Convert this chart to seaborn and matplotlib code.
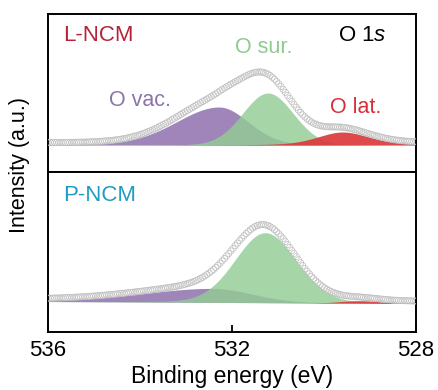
import numpy as np
import matplotlib
matplotlib.use("Agg")
import matplotlib.pyplot as plt
import seaborn as sns
import pandas as pd

# ---- data ----
# peak parameters: center (eV), height, fwhm high-BE side, fwhm low-BE side, lorentz fraction
top_vac = [532.28, 38, 2.2, 1.5, 0.10]
top_sur = [531.22, 52, 1.30, 1.30, 0.05]
top_lat = [529.60, 13, 1.30, 1.40, 0.35]
bot_vac = [532.40, 14, 3.6, 2.0, 0.10]
bot_sur = [531.28, 70, 1.55, 1.60, 0.10]
bot_lat = [529.20, 2.5, 1.0, 1.0, 0.0]
raw_scale = {"top": 1.10, "bottom": 1.0}
raw_offset = 2.0
bot_background = [0.0, -2.0]   # at 536 eV, at 528 eV
x_ticks = [536, 532, 528]
panel_labels = ["L-NCM", "P-NCM"]
peak_labels = ["O vac.", "O sur.", "O lat."]

c_vac = "#9a7fb6"
c_sur = "#93cd95"
c_lat = "#dc3a3c"

energy = np.linspace(536, 528, 170)


def peak(x, p):
    c, h, wl, wr, eta = p
    w = np.where(x > c, wl, wr)
    d2 = (x - c) ** 2 / w ** 2
    g = np.exp(-4 * np.log(2) * d2)
    lo = 1.0 / (1.0 + 4 * d2)
    return h * ((1 - eta) * g + eta * lo)


sns.set_theme(style="white")
plt.rcParams["font.family"] = ["Liberation Sans", "DejaVu Sans"]
plt.rcParams["mathtext.fontset"] = "custom"
plt.rcParams["mathtext.it"] = "Liberation Sans:italic"
plt.rcParams["mathtext.rm"] = "Liberation Sans"

fig = plt.figure(figsize=(4.38, 3.9), dpi=100)
ax1 = fig.add_axes([48 / 438, 1 - 172 / 390, 368 / 438, 158 / 390])
ax2 = fig.add_axes([48 / 438, 1 - 332 / 390, 368 / 438, 160 / 390])

for ax, comps, key, bg, ylim in [
    (ax1, [top_vac, top_sur, top_lat], "top", [0.0, 0.0], (-27, 131)),
    (ax2, [bot_vac, bot_sur, bot_lat], "bottom", bot_background, (-30.5, 129.5)),
]:
    base = bg[0] + (bg[1] - bg[0]) * (536 - energy) / 8.0
    total = np.zeros_like(energy)
    for p, col, a in zip(comps, [c_vac, c_sur, c_lat], [0.95, 0.82, 0.92]):
        yv = peak(energy, p)
        total += yv
        ax.fill_between(energy, base, base + yv, color=col, alpha=a, lw=0, zorder=2)
    raw = base + total * raw_scale[key] + raw_offset
    df = pd.DataFrame({"E": energy, "I": raw})
    sns.scatterplot(data=df, x="E", y="I", ax=ax, marker="o", s=20,
                    facecolor="none", edgecolor="#bdbdbd", linewidth=0.5, zorder=3)
    ax.set_xlim(536, 528)
    ax.set_ylim(*ylim)
    ax.set_yticks([])
    ax.set_ylabel("")
    ax.set_xlabel("")
    for s in ax.spines.values():
        s.set_visible(True)
        s.set_color("black")
        s.set_linewidth(1.4)

ax1.set_xticks([])
ax2.set_xticks(x_ticks)
ax2.set_xticklabels([str(t) for t in x_ticks])
ax2.tick_params(axis="x", direction="in", length=5, width=1.3, labelsize=16,
                pad=6, bottom=True, colors="black")
ax2.set_xlabel("Binding energy (eV)", fontsize=16.5, labelpad=3, color="black")

ax1.text(0.04, 0.865, panel_labels[0], transform=ax1.transAxes, fontsize=16,
         color="#b4233a", ha="left", va="center")
ax1.text(0.92, 0.865, r"O 1$\it{s}$", transform=ax1.transAxes, fontsize=16,
         color="black", ha="right", va="center")
ax1.text(0.25, 0.455, peak_labels[0], transform=ax1.transAxes, fontsize=15.5,
         color="#8a74ac", ha="center", va="center")
ax1.text(0.587, 0.785, peak_labels[1], transform=ax1.transAxes, fontsize=15.5,
         color="#8ecb8e", ha="center", va="center")
ax1.text(0.836, 0.41, peak_labels[2], transform=ax1.transAxes, fontsize=15.5,
         color="#d8303a", ha="center", va="center")
ax2.text(0.04, 0.856, panel_labels[1], transform=ax2.transAxes, fontsize=16,
         color="#1f9cc4", ha="left", va="center")

fig.text(20 / 438, 1 - 165 / 390, "Intensity (a.u.)", rotation=90, fontsize=15.5,
         ha="center", va="center", color="black")

fig.savefig("out.png", dpi=100)
